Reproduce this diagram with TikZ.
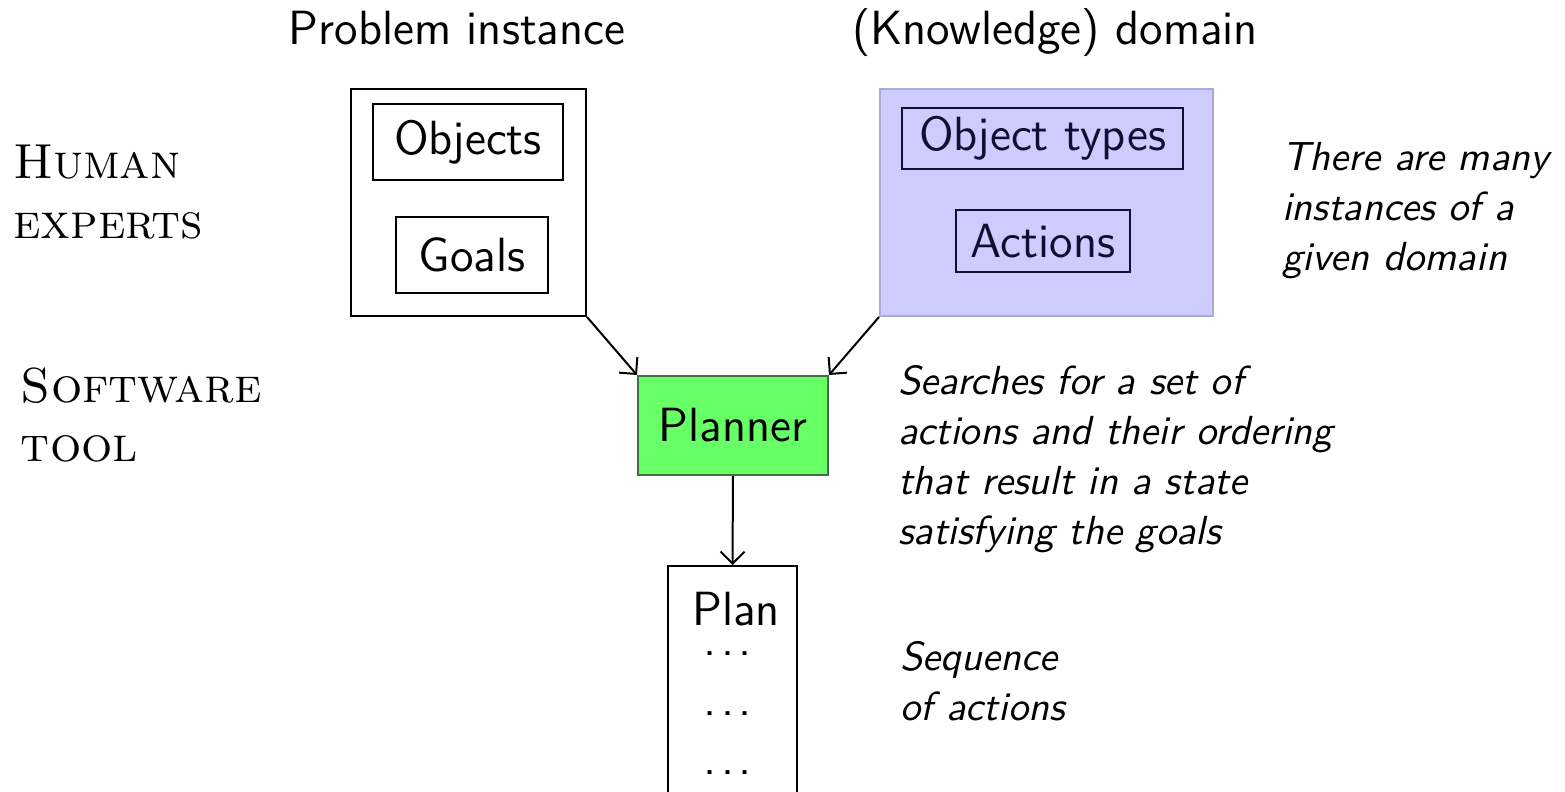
\documentclass[tikz,border=0pt]{standalone}
\usetikzlibrary{arrows.meta}

\definecolor{domfill}{RGB}{204,204,255}
\definecolor{domedge}{RGB}{170,170,210}
\definecolor{domink}{RGB}{15,15,50}
\definecolor{planfill}{RGB}{102,255,102}
\definecolor{planedge}{RGB}{70,110,70}

\newcommand\lblfont{\sffamily\fontsize{12}{14.4}\selectfont}
\newcommand\notefont{\sffamily\itshape\fontsize{10.15}{12.5}\selectfont}
\newcommand\rolefont{\rmfamily\scshape\fontsize{12.3}{14.75}\selectfont}
% spaced ellipsis: three periods, each followed by a small kern
\newcommand\spaceddots{.\kern.09em.\kern.09em.\kern.09em}

\begin{document}
\begin{tikzpicture}[x=0.25pt,y=-0.25pt,line width=0.5pt,
  lbl/.style={font=\lblfont,inner sep=0pt},
  box/.style={draw,font=\lblfont,inner sep=0pt},
  note/.style={font=\notefont,align=left,inner sep=0pt,anchor=base west},
  role/.style={font=\rolefont,align=left,inner sep=0pt,anchor=base west},
  arr/.style={-{Straight Barb[length=3pt,width=6pt]}}]
\useasboundingbox (0,0) rectangle (1565,792);

% column headings
\node[lbl,anchor=base] (hprob) at (457,44) {Problem instance};
\node[lbl,anchor=base] (hdom) at (1055,44) {(Knowledge) domain};

% row labels (base anchor sits on the last line)
\node[role] (human) at (12,238) {Human\\experts};
\node[role] (soft) at (20,461) {Software\\tool};

% problem instance
\node[box,minimum width=58.75pt,minimum height=56.75pt] (prob) at (468.5,202.5) {};
\node[box,minimum width=47.5pt,minimum height=19pt] (objs) at (468,142) {Objects};
\node[box,minimum width=38pt,minimum height=19pt] (goals) at (472,255) {Goals};

% domain
\node[box,draw=domedge,fill=domfill,minimum width=83.25pt,minimum height=56.75pt] (dom) at (1046.5,202.5) {};
\node[box,draw=domink,text=domink,minimum width=70.25pt,minimum height=15.25pt] (otypes) at (1042.5,138.5) {Object types};
\node[box,draw=domink,text=domink,minimum width=43.5pt,minimum height=15.5pt] (acts) at (1043,241) {Actions};

% planner and plan
\node[box,draw=planedge,fill=planfill,minimum width=47.5pt,minimum height=24.75pt] (planner) at (733,425.5) {Planner};
\node[box,anchor=north,minimum width=32.25pt,minimum height=60pt] (plan) at (732.5,565) {};
\node[lbl,anchor=base] (plantitle) at (736,625) {Plan};
\node[lbl,anchor=base] (dotsa) at (730,655) {\spaceddots};
\node[lbl,anchor=base] (dotsb) at (730,715) {\spaceddots};
\node[lbl,anchor=base] (dotsc) at (730,774) {\spaceddots};

% notes
\node[note] (nmany) at (1281,270) {There are many\\instances of a\\given domain};
\node[note] (nsearch) at (897,544) {Searches for a set of\\actions and their ordering\\that result in a state\\satisfying the goals};
\node[note] (nseq) at (899,720) {Sequence\\of actions};

% connectors
\draw[arr] (prob.south east) -- (planner.north west);
\draw[arr] (dom.south west) -- (planner.north east);
\draw[arr] (planner.south) -- (plan.north);
\end{tikzpicture}
\end{document}
